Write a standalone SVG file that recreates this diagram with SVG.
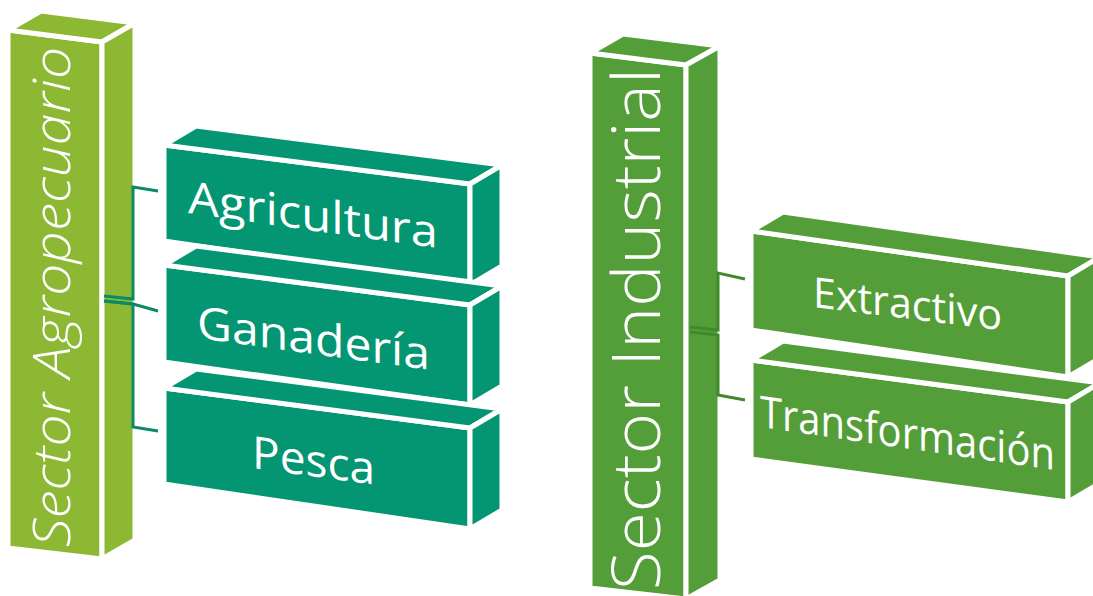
<svg xmlns="http://www.w3.org/2000/svg" width="1093" height="596" viewBox="0 0 1093 596">
<style>
.face{stroke:#ffffff;stroke-width:5;stroke-linejoin:round}
.lime{fill:#8db833}
.teal{fill:#049672}
.green{fill:#549e39}
.lbl{fill:#ffffff;font-family:"Open Sans","Liberation Sans",sans-serif}
.conn{fill:none;stroke-width:3}
.c1{stroke:#0a8a68}
.c2{stroke:#3f8a2c}
</style>
<rect width="1093" height="596" fill="#ffffff"/>

<g id="sector-agropecuario">
<polygon class="face lime" points="8,30 102,42 102,559 8,548"/>
<polygon class="face lime" points="8,30 41,11 135,23 102,42"/>
<polygon class="face lime" points="102,42 135,23 135,540 102,559"/>
<text class="lbl" transform="translate(70,547) rotate(-90)" font-size="51" font-style="italic" font-weight="300" textLength="500" lengthAdjust="spacingAndGlyphs">Sector Agropecuario</text>
</g>

<g id="sector-industrial">
<polygon class="face green" points="590,53 686,65 686,599 590,588"/>
<polygon class="face green" points="590,53 623,34 720,46 686,65"/>
<polygon class="face green" points="686,65 720,46 720,580 686,599"/>
<text class="lbl" transform="translate(660,590) rotate(-90)" font-size="66" font-weight="350" textLength="522" lengthAdjust="spacingAndGlyphs">Sector Industrial</text>
</g>

<g id="connectors">
<path class="conn c1" d="M104,296 L133,299 L133,187 L158,191"/>
<path class="conn c1" d="M104,301 L133,304 L158,311"/>
<path class="conn c1" d="M104,301 L133,304 L133,427 L158,431"/>
<path class="conn c2" d="M690,327 L718,330 L718,273 L745,279"/>
<path class="conn c2" d="M690,332 L718,335 L718,395 L745,400"/>
</g>

<g id="agricultura">
<polygon class="face teal" points="164,145 470,184 470,285 164,241"/>
<polygon class="face teal" points="164,145 196,126 502,165 470,184"/>
<polygon class="face teal" points="470,184 502,165 502,266 470,285"/>
<text class="lbl" transform="translate(188,213) skewY(8)" font-size="45" textLength="250" lengthAdjust="spacingAndGlyphs">Agricultura</text>
</g>

<g id="ganaderia">
<polygon class="face teal" points="164,265 470,305 470,405 164,362"/>
<polygon class="face teal" points="164,265 196,246 502,286 470,305"/>
<polygon class="face teal" points="470,305 502,286 502,386 470,405"/>
<text class="lbl" transform="translate(197,338) skewY(7.8)" font-size="45" textLength="233" lengthAdjust="spacingAndGlyphs">Ganadería</text>
</g>

<g id="pesca">
<polygon class="face teal" points="164,388 470,428 470,529 164,484"/>
<polygon class="face teal" points="164,388 196,369 502,409 470,428"/>
<polygon class="face teal" points="470,428 502,409 502,510 470,529"/>
<text class="lbl" transform="translate(252,468) skewY(7.8)" font-size="45" textLength="123" lengthAdjust="spacingAndGlyphs">Pesca</text>
</g>

<g id="extractivo">
<polygon class="face green" points="751,231 1068,276 1068,377 751,330"/>
<polygon class="face green" points="751,231 783,212 1100,257 1068,276"/>
<polygon class="face green" points="1068,276 1100,257 1100,358 1068,377"/>
<text class="lbl" transform="translate(813,307) skewY(7)" font-size="42" textLength="189" lengthAdjust="spacingAndGlyphs">Extractivo</text>
</g>

<g id="transformacion">
<polygon class="face green" points="751,360 1068,402 1068,502 751,459"/>
<polygon class="face green" points="751,360 783,341 1100,383 1068,402"/>
<polygon class="face green" points="1068,402 1100,383 1100,483 1068,502"/>
<text class="lbl" transform="translate(760,427) skewY(8.3)" font-size="44" textLength="295" lengthAdjust="spacingAndGlyphs">Transformación</text>
</g>
</svg>
